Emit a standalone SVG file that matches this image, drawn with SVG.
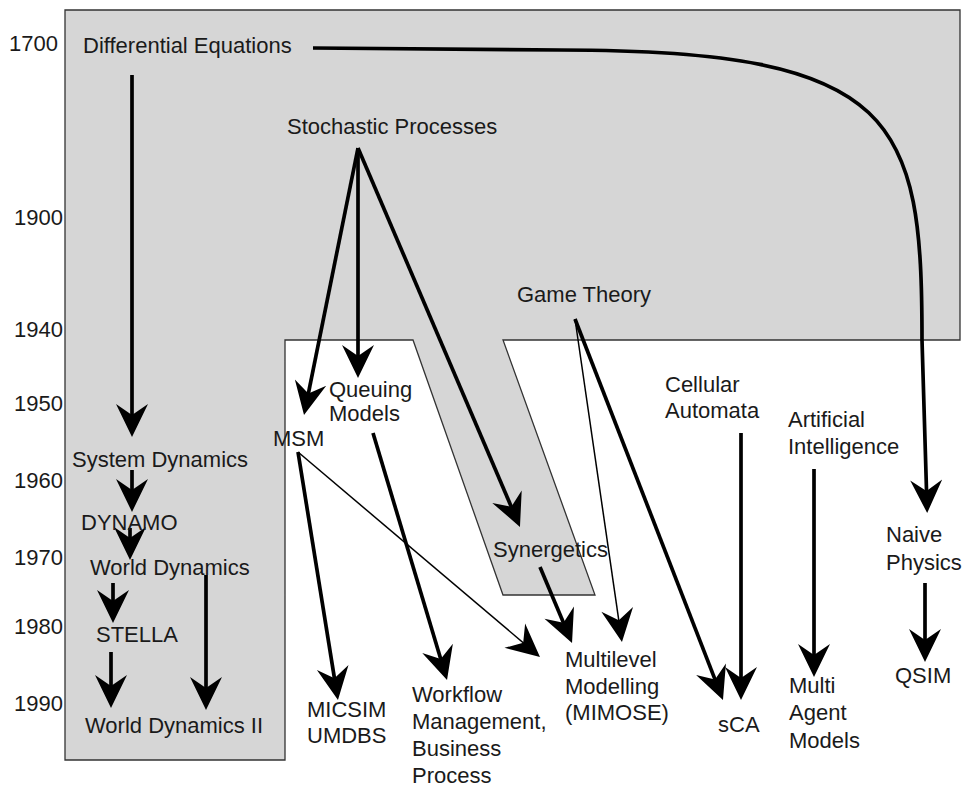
<svg xmlns="http://www.w3.org/2000/svg" width="968" height="787" viewBox="0 0 968 787">
<style>
text{font-family:"Liberation Sans",Arial,Helvetica,sans-serif;font-size:22px;fill:#1a1a1a}
.yr{text-anchor:end}
.c{fill:none;stroke:#000;stroke-width:3.7}
.t{fill:none;stroke:#000;stroke-width:1.5}
.a{marker-end:url(#ah)}
</style>
<defs>
<marker id="ah" markerUnits="userSpaceOnUse" viewBox="-30 -17 38 34" markerWidth="38" markerHeight="34" refX="0" refY="0" orient="auto">
<path d="M6,0 L-27,-16 L-16,0 L-27,16 Z" fill="#000"/>
</marker>
</defs>
<rect width="968" height="787" fill="#fff"/>
<path id="background" d="M65,10 H960 V340 H503 L595,595 H503 L413,340 H285 V760 H65 Z" fill="#d6d6d6" stroke="#333" stroke-width="1.3"/>
<g id="years">
<text class="yr" x="58" y="51">1700</text>
<text class="yr" x="63" y="225">1900</text>
<text class="yr" x="63" y="337">1940</text>
<text class="yr" x="63" y="411">1950</text>
<text class="yr" x="63" y="488">1960</text>
<text class="yr" x="63" y="565">1970</text>
<text class="yr" x="63" y="634">1980</text>
<text class="yr" x="63" y="711">1990</text>
</g>
<g id="connectors">
<path class="c a" d="M132,75 V431"/>
<path class="c a" d="M313,48 L560,50 C900,50 922,120 922,340 L927,507"/>
<path class="c a" d="M358,148 L305.2,409.1"/>
<path class="c a" d="M358,148 V372"/>
<path class="c a" d="M358,148 L517.6,521.5"/>
<path class="t a" d="M575,319 L621.1,636.1"/>
<path class="c a" d="M575,319 L720.8,694.4"/>
<path class="c a" d="M741,433 V694"/>
<path class="c a" d="M814,469 V671"/>
<path class="c a" d="M925,583 V656"/>
<path class="c a" d="M298,452 L337,694.1"/>
<path class="t a" d="M298,452 L535.4,653.1"/>
<path class="c a" d="M373,433 L445.3,674.3"/>
<path class="c a" d="M540,567 L569.7,637.5"/>
<path class="c a" d="M132,470 V506"/>
<path class="c a" d="M130,528 V554"/>
<path class="c a" d="M113,583 V617"/>
<path class="c a" d="M111,652 V702"/>
<path class="c a" d="M206,575 V704"/>
</g>
<g id="differential-equations"><text x="83" y="53">Differential Equations</text></g>
<g id="stochastic-processes"><text x="287" y="134">Stochastic Processes</text></g>
<g id="game-theory"><text x="517" y="302">Game Theory</text></g>
<g id="system-dynamics"><text x="72" y="467">System Dynamics</text></g>
<g id="dynamo"><text x="81" y="530">DYNAMO</text></g>
<g id="world-dynamics"><text x="90" y="575">World Dynamics</text></g>
<g id="stella"><text x="96" y="642">STELLA</text></g>
<g id="world-dynamics-ii"><text x="85" y="733">World Dynamics II</text></g>
<g id="msm"><text x="273" y="446">MSM</text></g>
<g id="queuing-models"><text x="329" y="397">Queuing</text><text x="329" y="421">Models</text></g>
<g id="synergetics"><text x="493" y="557">Synergetics</text></g>
<g id="micsim-umdbs"><text x="307" y="717">MICSIM</text><text x="307" y="743">UMDBS</text></g>
<g id="workflow"><text x="412" y="702">Workflow</text><text x="412" y="729">Management,</text><text x="412" y="756">Business</text><text x="412" y="783">Process</text></g>
<g id="multilevel-modelling"><text x="565" y="667">Multilevel</text><text x="565" y="694">Modelling</text><text x="565" y="720">(MIMOSE)</text></g>
<g id="cellular-automata"><text x="665" y="392">Cellular</text><text x="665" y="418">Automata</text></g>
<g id="artificial-intelligence"><text x="788" y="427">Artificial</text><text x="788" y="454">Intelligence</text></g>
<g id="naive-physics"><text x="886" y="542">Naive</text><text x="886" y="570">Physics</text></g>
<g id="sca"><text x="718" y="732">sCA</text></g>
<g id="multi-agent-models"><text x="789" y="693">Multi</text><text x="789" y="720">Agent</text><text x="789" y="748">Models</text></g>
<g id="qsim"><text x="895" y="683">QSIM</text></g>
</svg>
